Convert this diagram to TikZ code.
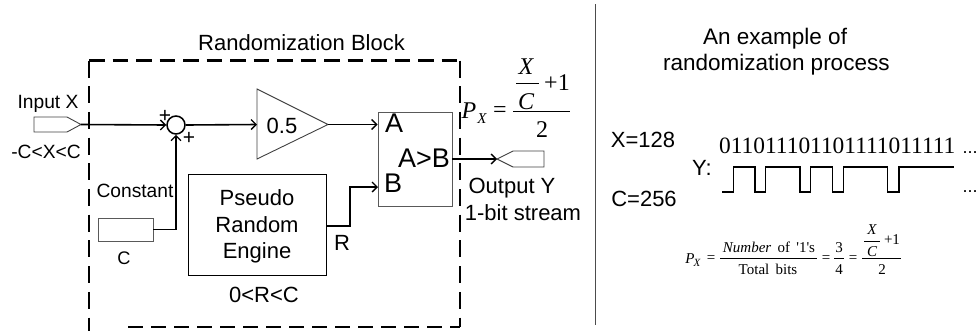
\documentclass[tikz,border=0pt]{standalone}
\usepackage{fontspec}
\setmainfont{Liberation Sans}
\newfontfamily\timesf{Liberation Serif}
\usetikzlibrary{arrows.meta}
\tikzset{
  every node/.style={anchor=base},
  lbl/.style={inner sep=0pt,font=\fontsize{22}{24}\selectfont},
  lblmid/.style={inner sep=0pt,font=\fontsize{19.2}{21}\selectfont},
  lblhead/.style={inner sep=0pt,font=\fontsize{18.2}{20}\selectfont},
  lblbig/.style={inner sep=0pt,font=\fontsize{27}{29}\selectfont},
  ser/.style={inner sep=0pt,font=\timesf\fontsize{24}{26}\selectfont},
  seri/.style={inner sep=0pt,font=\timesf\itshape\fontsize{24}{26}\selectfont},
  sers/.style={inner sep=0pt,font=\timesf\fontsize{15}{17}\selectfont},
  sersi/.style={inner sep=0pt,font=\timesf\itshape\fontsize{15}{17}\selectfont},
  thinbox/.style={draw=black!75,line width=0.9pt,inner sep=0pt,anchor=center},
  wire/.style={draw=black,line width=1.6pt,line join=miter},
  arrowed/.style={wire,-{Straight Barb[length=5pt,width=10pt,line width=1.3pt]}},
  dashedge/.style={draw=black,line width=2.8pt},
  bar/.style={draw=black,line width=0.9pt},
}
\begin{document}
\begin{tikzpicture}[x=1pt,y=-1pt]
\useasboundingbox (0,0) rectangle (979,330);
% dashed block
\coordinate (bl) at (89,331);
\coordinate (tl) at (89,60.5);
\coordinate (tr) at (460,60.5);
\coordinate (br) at (460,327);
\coordinate (bs) at (128,327);
\draw[dashedge,dash pattern=on 15.5pt off 8pt] (tl) -- (tr);
\draw[dashedge,dash pattern=on 15pt off 8pt] (bs) -- (br);
\draw[dashedge,dash pattern=on 17pt off 8.7pt] (tl) -- (bl);
\draw[dashedge,dash pattern=on 17pt off 8.7pt] (tr) -- (br);
\node[lbl,anchor=base west] (title) at (198,50) {Randomization Block};
% separator
\coordinate (sepa) at (595.5,4);
\coordinate (sepb) at (595.5,325);
\draw[draw=black!70,line width=1.2pt] (sepa) -- (sepb);
% input port
\coordinate (intip) at (81,124.5);
\draw[thinbox] (34,117) -- (67,117) -- (intip) -- (67,132) -- (34,132) -- cycle;
\node[lblmid] (inx) at (48,108.3) {Input X};
\node[lblmid] (range) at (46,158) {-C<X<C};
% sum
\node[draw=black,line width=1.5pt,circle,minimum size=18pt,inner sep=0pt,anchor=center] (sum) at (176,125) {};
\node[lblmid,font=\fontsize{21}{23}\selectfont,anchor=center] (p1) at (165,116) {+};
\node[lblmid,font=\fontsize{21}{23}\selectfont,anchor=center] (p2) at (189,138) {+};
% amplifier
\coordinate (tria) at (257,89);
\coordinate (trib) at (257,159);
\coordinate (trit) at (328,124.5);
\coordinate (trii) at (257,124.5);
\draw[thinbox] (tria) -- (trit) -- (trib) -- cycle;
\node[lbl] (gain) at (282,133) {0.5};
% comparator
\node[thinbox,draw=black!65,minimum width=74pt,minimum height=94pt] (cmp) at (415,159) {};
\node[lblbig] (la) at (394,132) {A};
\node[lblbig] (lb) at (393,192) {B};
\node[lblbig] (lab) at (424,167) {A>B};
% constant
\node[thinbox,draw=black!65,minimum width=55pt,minimum height=23pt] (cst) at (125.5,229.5) {};
\node[lblmid] (constant) at (135,197) {Constant};
\node[lblhead] (c) at (124,264) {C};
% engine
\node[thinbox,draw=black,minimum width=138pt,minimum height=101pt] (eng) at (257,224.5) {};
\node[lbl] (e1) at (257,205) {Pseudo};
\node[lbl] (e2) at (257,232) {Random};
\node[lbl] (e3) at (257,258) {Engine};
\node[lbl] (r) at (342,250) {R};
\node[lbl] (rr) at (264,302) {0<R<C};
% output port
\coordinate (outtip) at (497,159);
\draw[thinbox] (outtip) -- (513,151) -- (544,151) -- (544,167) -- (513,167) -- cycle;
\node[lbl] (outy) at (512,193) {Output Y};
\node[lbl] (outb) at (523,220) {1-bit stream};
% connectors
\draw[arrowed] (intip) -- (sum.west);
\draw[arrowed] (sum.east) -- (trii);
\draw[arrowed] (trit) -- (cmp.west |- trit);
\draw[arrowed] (cst.east) -| (sum.south);
\coordinate (bin) at (378,187);
\draw[arrowed] (eng.east |- 0,226) -- (350,226) |- (bin);
\draw[arrowed] (cmp.east) -- (outtip);
% big formula
\node[seri] (fp) at (469,118) {P};
\node[seri,font=\timesf\itshape\fontsize{15}{17}\selectfont] (fx) at (482,123) {X};
\node[ser] (feq) at (500,117.5) {=};
\node[seri] (ftx) at (526,74) {X};
\node[seri] (ftc) at (526,109) {C};
\node[ser] (fpl) at (557,90) {+1};
\node[ser] (f2) at (542,137) {2};
\coordinate (b1a) at (516,83); \coordinate (b1b) at (539,83);
\coordinate (b2a) at (513,111); \coordinate (b2b) at (570,111);
\draw[bar] (b1a) -- (b1b);
\draw[bar] (b2a) -- (b2b);
% right part
\node[lbl,font=\fontsize{22.5}{24}\selectfont,anchor=base west] (ex1) at (703,44) {An example of};
\node[lbl,font=\fontsize{22.5}{24}\selectfont,anchor=base west] (ex2) at (663,70.5) {randomization process};
\node[lbl] (x128) at (643,147) {X=128};
\node[lbl] (c256) at (644,206) {C=256};
\node[lbl] (ylab) at (702,175) {Y:};
\node[inner sep=0pt,anchor=base west,font=\timesf\fontsize{23.4}{25}\selectfont] (bits) at (719,153) {011011101101111011111};
\node[inner sep=0pt,font=\fontsize{18}{20}\selectfont] (d1) at (970,153) {...};
\node[inner sep=0pt,font=\fontsize{18}{20}\selectfont] (d2) at (970,192) {...};
\coordinate (wave) at (722,192);
\draw[wire,line width=1.5pt] (wave) -- (733.3,192) -- (733.3,167) -- (755,167) -- (755,192) -- (765.7,192) -- (765.7,167) -- (800,167) -- (800,192) -- (810.7,192) -- (810.7,167) -- (832.7,167) -- (832.7,192) -- (843.3,192) -- (843.3,167) -- (887.3,167) -- (887.3,192) -- (899,192) -- (899,167) -- (954,167);
% small formula
\node[sersi] (sp) at (690,263) {P};
\node[sersi,font=\timesf\itshape\fontsize{11}{13}\selectfont] (sx) at (697,266) {X};
\node[sers] (se1) at (711,262) {=};
\node[sers] (sn) at (769,252) {\textit{Number}\, of\, '1's};
\node[sers] (st) at (768,274) {Total\, bits};
\node[sers] (se2) at (826,262) {=};
\node[sers] (s3) at (839,252) {3};
\node[sers] (s4) at (839,274) {4};
\node[sers] (se3) at (853,262) {=};
\node[sersi] (stx) at (872,234) {X};
\node[sersi] (stc) at (872,256) {C};
\node[sers] (spl) at (892,244) {+1};
\node[sers] (s2) at (882,274) {2};
\coordinate (s1a) at (720,258); \coordinate (s1b) at (817,258);
\coordinate (s2a) at (834,258); \coordinate (s2b) at (844,258);
\coordinate (s3a) at (862,258); \coordinate (s3b) at (901,258);
\coordinate (s4a) at (864,241); \coordinate (s4b) at (880,241);
\draw[bar,line width=0.7pt] (s1a) -- (s1b);
\draw[bar,line width=0.7pt] (s2a) -- (s2b);
\draw[bar,line width=0.7pt] (s3a) -- (s3b);
\draw[bar,line width=0.7pt] (s4a) -- (s4b);
\end{tikzpicture}
\end{document}
